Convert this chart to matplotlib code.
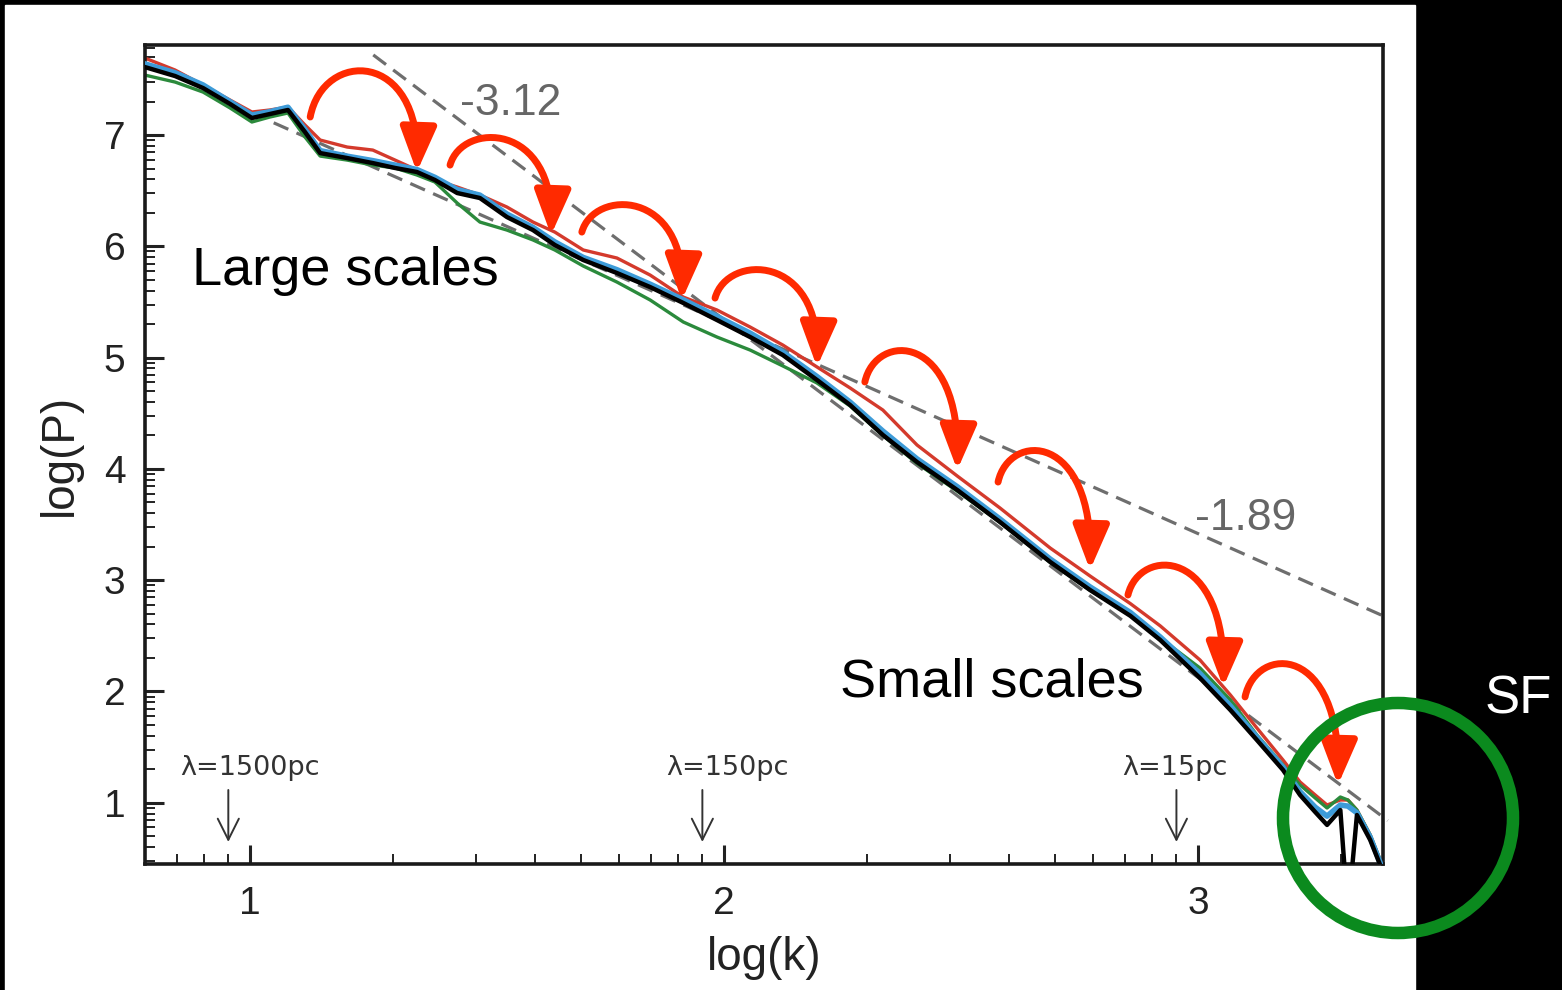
import numpy as np
import matplotlib
matplotlib.use("Agg")
import matplotlib.pyplot as plt
from matplotlib.patches import Rectangle, Ellipse, FancyArrowPatch, ArrowStyle
from matplotlib.path import Path
from matplotlib.ticker import FixedLocator

plt.rcParams['font.family'] = ['Liberation Sans', 'DejaVu Sans']

# power spectra
log_k = [0.778, 0.842, 0.901, 0.958, 1.004, 1.042, 1.080, 1.116, 1.148, 1.205,
         1.259, 1.306, 1.352, 1.390, 1.437, 1.485, 1.542, 1.597, 1.643, 1.703,
         1.774, 1.844, 1.914, 1.985, 2.055, 2.124, 2.196, 2.266, 2.335, 2.407,
         2.492, 2.582, 2.688, 2.772, 2.857, 2.920, 3.004, 3.068, 3.124, 3.179,
         3.215, 3.247, 3.272, 3.300, 3.316, 3.335, 3.363, 3.384]
red_P = [7.692, 7.584, 7.449, 7.314, 7.207, 7.225, 7.252, 7.090, 6.955, 6.892,
         6.865, 6.775, 6.686, 6.596, 6.533, 6.461, 6.353, 6.218, 6.128, 5.967,
         5.895, 5.742, 5.544, 5.428, 5.275, 5.113, 4.916, 4.727, 4.529, 4.215,
         3.936, 3.649, 3.289, 3.038, 2.790, 2.590, 2.283, 1.969, 1.672, 1.385,
         1.187, 1.070, 0.980, 1.025, 1.025, 0.935, 0.711, 0.486]
green_P = [7.539, 7.476, 7.386, 7.243, 7.117, 7.162, 7.198, 6.982, 6.811, 6.775,
           6.730, 6.704, 6.641, 6.578, 6.389, 6.218, 6.146, 6.057, 5.967, 5.823,
           5.679, 5.518, 5.320, 5.185, 5.068, 4.925, 4.772, 4.565, 4.300, 4.050,
           3.800, 3.520, 3.160, 2.910, 2.690, 2.480, 2.211, 1.924, 1.609, 1.340,
           1.160, 1.043, 0.953, 1.052, 1.025, 0.935, 0.711, 0.486]
blue_P = [7.64, 7.56, 7.45, 7.30, 7.18, 7.21, 7.25, 7.05, 6.86, 6.81,
          6.77, 6.73, 6.69, 6.62, 6.51, 6.46, 6.29, 6.17, 6.04, 5.90,
          5.79, 5.66, 5.52, 5.37, 5.22, 5.05, 4.83, 4.60, 4.34, 4.09,
          3.84, 3.55, 3.19, 2.94, 2.71, 2.49, 2.16, 1.87, 1.59, 1.32,
          1.10, 0.96, 0.88, 0.98, 0.97, 0.91, 0.69, 0.46]
black_P = [7.611, 7.530, 7.422, 7.279, 7.153, 7.189, 7.225, 7.027, 6.838, 6.793,
           6.748, 6.704, 6.668, 6.596, 6.479, 6.434, 6.263, 6.146, 6.012, 5.877,
           5.760, 5.634, 5.491, 5.338, 5.185, 5.023, 4.799, 4.574, 4.305, 4.062,
           3.810, 3.523, 3.164, 2.912, 2.680, 2.463, 2.121, 1.834, 1.564, 1.295,
           1.070, 0.917, 0.801, 0.935, 0.0, 0.890, 0.666, 0.441]

# power-law guides
steep_x, steep_y = [1.26, 3.40], [7.72, 0.84]
shallow_x, shallow_y = [1.05, 3.39], [7.11, 2.68]

# cascade arrows (tail, tip, top of arc)
tail_x = [1.127, 1.422, 1.700, 1.981, 2.297, 2.578, 2.852, 3.099]
tail_y = [7.162, 6.730, 6.128, 5.535, 4.781, 3.882, 2.867, 1.951]
tip_x = [1.352, 1.635, 1.911, 2.196, 2.492, 2.772, 3.053, 3.295]
tip_y = [6.668, 6.101, 5.518, 4.916, 3.990, 3.092, 2.040, 1.160]
top_y = [7.557, 6.946, 6.344, 5.760, 5.023, 4.125, 3.092, 2.211]

# scale markers
lam_x = [np.log10(9), np.log10(90), np.log10(900)]
lam_text = ['λ=1500pc', 'λ=150pc', 'λ=15pc']
lam_text_x = [1.0, 2.008, 2.951]

W, H = 1562, 990
fig = plt.figure(figsize=(W / 100, H / 100), dpi=100, facecolor='black')
fig.patches.append(Rectangle((5 / W, 0), (1415 - 5) / W, (H - 5) / H,
                             transform=fig.transFigure, color='white', zorder=-10))

ax = fig.add_axes([145 / W, 1 - 864 / H, (1383 - 145) / W, (864 - 45) / H])
ax.set_facecolor('white')

ax.plot(log_k, red_P, color='#d43a2c', lw=2.4, zorder=2)
ax.plot(log_k, green_P, color='#2b8a3c', lw=2.4, zorder=2)
ax.plot(log_k, blue_P, color='#3d9bd8', lw=4.0, zorder=3)
ax.plot(log_k, black_P, color='black', lw=3.2, zorder=4)

ax.plot(steep_x, steep_y, color='#6e6e6e', lw=2.3, dashes=(5, 2.8), clip_on=False, zorder=1)
ax.plot(shallow_x, shallow_y, color='#6e6e6e', lw=2.3, dashes=(5, 2.8), zorder=1)
ax.text(1.443, 7.18, '-3.12', fontsize=32, color='#666666')
ax.text(2.994, 3.451, '-1.89', fontsize=32, color='#666666')

ax.set_xlim(0.7785, 3.390)
ax.set_ylim(0.45, 7.809)
ax.set_xticks([1, 2, 3])
ax.set_yticks([1, 2, 3, 4, 5, 6, 7])
ax.xaxis.set_minor_locator(FixedLocator(
    [d + np.log10(m) for d in range(0, 4) for m in range(2, 10)]))
ax.yaxis.set_minor_locator(FixedLocator(
    [d + np.log10(m) for d in range(0, 8) for m in range(2, 10)]))
ax.tick_params(which='both', direction='in', top=False, right=False, colors='#222222')
ax.tick_params(which='major', length=14, width=2.2, labelsize=28)
ax.tick_params(which='minor', length=7, width=1.4)
ax.tick_params(axis='x', which='major', pad=16)
ax.tick_params(axis='y', which='major', pad=14)
for s in ax.spines.values():
    s.set_linewidth(2.6)
    s.set_color('#1a1a1a')
ax.set_xlabel('log(k)', fontsize=33, color='#222222', labelpad=10)
ax.set_ylabel('log(P)', fontsize=33, color='#222222', labelpad=16)

for lx, tx, t in zip(lam_x, lam_text_x, lam_text):
    ax.annotate('', xy=(lx, 0.648), xytext=(lx, 1.115),
                arrowprops=dict(arrowstyle='->', lw=1.4, color='#333333',
                                mutation_scale=38, shrinkA=0, shrinkB=0))
    ax.text(tx, 1.313, t, fontsize=19.5, color='#333333', ha='center', va='center',
            family='DejaVu Sans')

# red cascade arcs
for x0, y0, x1, y1, yt in zip(tail_x, tail_y, tip_x, tip_y, top_y):
    w = x1 - x0
    yc = (yt - 0.125 * (y0 + y1)) / 0.75
    verts = [(x0, y0), (x0 + 0.12 * w, yc), (x1 + 0.04 * w, yc), (x1, y1)]
    codes = [Path.MOVETO, Path.CURVE4, Path.CURVE4, Path.CURVE4]
    arr = FancyArrowPatch(path=Path(verts, codes),
                          arrowstyle=ArrowStyle('-|>', head_length=27, head_width=11),
                          mutation_scale=1, lw=5, color='#ff2a00',
                          shrinkA=0, shrinkB=0, transform=ax.transData, zorder=6)
    ax.add_patch(arr)

ax.text(0.878, 5.652, 'Large scales', fontsize=39, color='black', va='baseline')
ax.text(2.245, 1.951, 'Small scales', fontsize=39, color='black', va='baseline')

fig.add_artist(Ellipse((1398 / W, 1 - 818 / H), 2 * 115 / W, 2 * 115 / H,
                       transform=fig.transFigure, fill=False, lw=9,
                       edgecolor='#0b8a1e', zorder=5))
fig.text(1485 / W, 1 - 713 / H, 'SF', fontsize=38, color='white', va='baseline')

fig.savefig('out.png', dpi=100, facecolor=fig.get_facecolor())
